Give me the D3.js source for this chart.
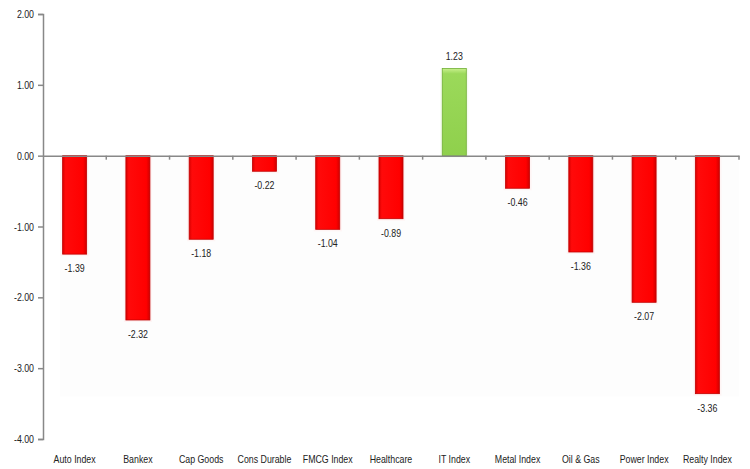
<!DOCTYPE html>
<html><head><meta charset="utf-8">
<script src="https://cdn.jsdelivr.net/npm/d3@7/dist/d3.min.js"></script>
<style>
body{margin:0;background:#fff;}
text{font-family:"Liberation Sans",Arial,sans-serif;fill:#222;}
</style></head>
<body><svg id="c" width="750" height="469"></svg>
<script>
const categories=["Auto Index","Bankex","Cap Goods","Cons Durable","FMCG Index","Healthcare","IT Index","Metal Index","Oil & Gas","Power Index","Realty Index"];
const values=[-1.39,-2.32,-1.18,-0.22,-1.04,-0.89,1.23,-0.46,-1.36,-2.07,-3.36];
const yTicks=[2,1,0,-1,-2,-3,-4];

const SX=0.8, FS="11px";
const svg=d3.select("#c");
const mLeft=43,mRight=739,mTop=14,mBottom=439;
const x=d3.scaleBand().domain(categories).range([mLeft,mRight]).paddingInner(0.62).paddingOuter(0.31);
const y=d3.scaleLinear().domain([-4,2]).range([mBottom,mTop]);
const fmt=d=>d.toFixed(2);

const defs=svg.append("defs");
const rg=defs.append("linearGradient").attr("id","red").attr("x1",0).attr("x2",1).attr("y1",0).attr("y2",0);
rg.append("stop").attr("offset","0%").attr("stop-color","#d80000");
rg.append("stop").attr("offset","12%").attr("stop-color","#ff0a0a");
rg.append("stop").attr("offset","85%").attr("stop-color","#ff0000");
rg.append("stop").attr("offset","100%").attr("stop-color","#d00000");
const gg=defs.append("linearGradient").attr("id","green").attr("x1",0).attr("x2",0).attr("y1",0).attr("y2",1);
gg.append("stop").attr("offset","0%").attr("stop-color","#c8f08c");
gg.append("stop").attr("offset","6%").attr("stop-color","#9bd95a");
gg.append("stop").attr("offset","100%").attr("stop-color","#8fd04c");

// faint plot backdrop below zero line
svg.append("rect").attr("x",mLeft+17).attr("width",mRight-mLeft-17)
 .attr("y",y(0)).attr("height",y(-3.4)-y(0)).attr("fill","#fdfdfd");

// y axis
const yAxis=d3.axisLeft(y).tickValues(yTicks).tickFormat(fmt).tickSize(5).tickPadding(4);
const ya=svg.append("g").attr("transform",`translate(${mLeft},0)`).call(yAxis);
ya.select(".domain").attr("stroke","#888").attr("stroke-width",1.5);
ya.selectAll(".tick line").attr("stroke","#888").attr("stroke-width",1.5);
ya.selectAll(".tick text").style("font-size",FS).attr("fill","#222")
  .attr("x",-9/SX).attr("transform",`scale(${SX},1)`);

// bars
const barG=svg.append("g");
barG.selectAll("rect.shadow").data(values).join("rect")
 .attr("x",(d,i)=>x(categories[i])-2).attr("width",x.bandwidth()+4)
 .attr("y",d=>y(Math.max(0,d))).attr("height",d=>Math.abs(y(d)-y(0))+2)
 .attr("fill",d=>d<0?"#ffeeee":"#eef8e4").attr("opacity",0.6);
barG.selectAll("rect.bar").data(values).join("rect")
 .attr("x",(d,i)=>x(categories[i])).attr("width",x.bandwidth())
 .attr("y",d=>y(Math.max(0,d))).attr("height",d=>Math.abs(y(d)-y(0)))
 .attr("fill",d=>d<0?"url(#red)":"url(#green)")
 .attr("stroke",d=>d<0?"#c00000":"#6fae33").attr("stroke-width",0.8);

// value labels
svg.append("g").selectAll("g").data(values).join("g")
 .attr("transform",(d,i)=>`translate(${x(categories[i])+x.bandwidth()/2},${d<0?y(d)+18:y(d)-9}) scale(${SX},1)`)
 .append("text").attr("text-anchor","middle").style("font-size",FS)
 .text(d=>fmt(d));

// zero axis with category ticks
const xAxis=d3.axisBottom(x).tickSize(0).tickFormat("");
const xa=svg.append("g").attr("transform",`translate(0,${y(0)})`).call(xAxis);
xa.select(".domain").attr("stroke","#888").attr("stroke-width",1.5);
xa.selectAll(".tick").remove();
const step=x.step();
xa.selectAll("line.ct").data(d3.range(1,categories.length+1)).join("line")
 .attr("x1",i=>mLeft+i*step).attr("x2",i=>mLeft+i*step).attr("y1",0).attr("y2",4)
 .attr("stroke","#888").attr("stroke-width",1.5);

// category labels
svg.append("g").selectAll("g").data(categories).join("g")
 .attr("transform",d=>`translate(${x(d)+x.bandwidth()/2},463) scale(${SX},1)`)
 .append("text").attr("text-anchor","middle").style("font-size",FS)
 .text(d=>d);
</script></body></html>
